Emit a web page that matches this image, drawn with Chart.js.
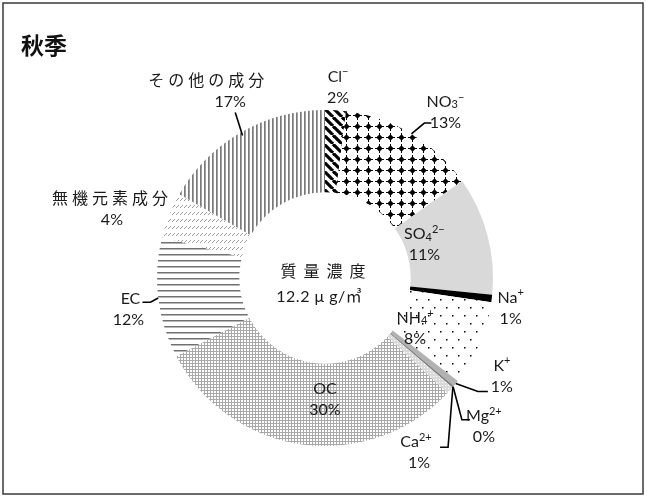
<!DOCTYPE html>
<html>
<head>
<meta charset="utf-8">
<script src="https://cdn.jsdelivr.net/npm/chart.js@4"></script>
<style>
  body { margin: 0; background: #fff; }
  canvas { display: block; }
</style>
</head>
<body>
<canvas id="seasonChart" width="647" height="497"></canvas>
<script>
var title = '秋季';
var categories = ['Cl⁻', 'NO₃⁻', 'SO₄²⁻', 'Na⁺', 'NH₄⁺', 'K⁺', 'Mg²⁺', 'Ca²⁺', 'OC', 'EC', '無機元素成分', 'その他の成分'];
var shares = [2.0, 13.2, 11.4, 0.7, 8.2, 0.6, 0.2, 0.7, 30.3, 11.6, 4.4, 16.7];
var shownPercent = [2, 13, 11, 1, 8, 1, 0, 1, 30, 12, 4, 17];
var centerLines = ['質量濃度', '12.2 μ g/㎥'];

// label placement: radius from centre (px), angle shift from slice middle (deg), leader bends relative to label
var labelLayout = [
  { r: 192, da: 0.3 },
  { r: 205, da: 5, leader: [[-21, 11], [-14, 11]] },
  { r: 105, da: -4 },
  { r: 188, da: 2 },
  { r: 103, da: 6 },
  { r: 202, da: -10, leader: [[-24, 16], [-14, 16]] },
  { r: 217, da: 2.6, leader: [[-22, -6], [-14, -6]] },
  { r: 198, da: 19.7, leader: [[29, -5], [21, -5]], leaderDa: -1.5, nameDx: -3 },
  { r: 121, da: -7.7 },
  { r: 199, da: -2.2, leader: [[22, -7], [14, -7]], nameDx: 2 },
  { r: 224, da: -4, nameDx: -2 },
  { r: 212, da: 2.3, leader: [[9, 22]], leaderR: 0.98, nameDx: -20, pctDx: 4 }
];

function makePattern(w, h, draw) {
  var c = document.createElement('canvas');
  c.width = w; c.height = h;
  var x = c.getContext('2d');
  x.fillStyle = '#fff';
  x.fillRect(0, 0, w, h);
  draw(x);
  return x.createPattern(c, 'repeat');
}

var fills = [
  makePattern(9, 9, function(x) {
    x.strokeStyle = '#000'; x.lineWidth = 3.2;
    [-9, 0, 9].forEach(function(k) { x.beginPath(); x.moveTo(k, 0); x.lineTo(k + 9, 9); x.stroke(); });
  }),
  makePattern(11, 11, function(x) {
    x.fillStyle = '#000';
    x.beginPath();
    x.moveTo(5.5, 2.3); x.lineTo(8.7, 5.5); x.lineTo(5.5, 8.7); x.lineTo(2.3, 5.5);
    x.closePath(); x.fill();
    x.fillRect(5, 1, 1, 9); x.fillRect(1, 5, 9, 1);
  }),
  '#d9d9d9',
  '#000000',
  makePattern(12, 16, function(x) {
    x.fillStyle = '#000';
    x.fillRect(2, 3, 1.5, 1.5); x.fillRect(8, 11, 1.5, 1.5);
  }),
  '#b2b2b2',
  '#808080',
  makePattern(3, 3, function(x) {
    x.fillStyle = '#dadada'; x.fillRect(0, 0, 3, 3);
    x.fillStyle = '#fff'; x.fillRect(1, 1, 1, 1);
  }),
  makePattern(3, 3, function(x) {
    x.fillStyle = '#a8a8a8'; x.fillRect(0, 0, 3, 3);
    x.fillStyle = '#fff'; x.fillRect(1, 1, 2, 2);
  }),
  makePattern(1, 6, function(x) {
    x.fillStyle = '#707070'; x.fillRect(0, 2, 1, 1);
    x.fillStyle = '#b8b8b8'; x.fillRect(0, 3, 1, 1);
  }),
  makePattern(4, 7, function(x) {
    x.strokeStyle = '#9a9a9a'; x.lineWidth = 1;
    x.beginPath(); x.moveTo(0, 5); x.lineTo(3, 2); x.stroke();
  }),
  makePattern(4, 1, function(x) {
    x.fillStyle = '#7a7a7a'; x.fillRect(0, 0, 1, 1);
    x.fillStyle = '#a0a0a0'; x.fillRect(1, 0, 1, 1);
  })
];

var FONT = "Lato, 'Noto Sans CJK JP', sans-serif";
var SUB = { '₃': '3', '₄': '4' };
var SUP = { '²': '2', '⁺': '+', '⁻': '−' };

function isCjk(s) { return /[\u3040-\u9fff]/.test(s); }

// split a label into normal / subscript / superscript runs
function richParts(s) {
  var parts = [];
  Array.from(s).forEach(function(ch) {
    var mode = SUB[ch] ? 'sub' : (SUP[ch] ? 'sup' : 'n');
    var t = SUB[ch] || SUP[ch] || ch;
    var last = parts[parts.length - 1];
    if (last && last.mode === mode) last.t += t;
    else parts.push({ t: t, mode: mode });
  });
  return parts;
}

function drawText(ctx, s, x, y, size, spacing) {
  spacing = spacing || 0;
  var parts = richParts(s);
  var small = Math.round(size * 0.68);
  ctx.textAlign = 'left';
  ctx.letterSpacing = spacing + 'px';
  var total = 0;
  parts.forEach(function(p) {
    ctx.font = (p.mode === 'n' ? size : small) + 'px ' + FONT;
    p.w = ctx.measureText(p.t).width;
    total += p.w;
  });
  total -= spacing;
  var cx = x - total / 2;
  parts.forEach(function(p) {
    ctx.font = (p.mode === 'n' ? size : small) + 'px ' + FONT;
    var dy = p.mode === 'sup' ? -size * 0.3 : (p.mode === 'sub' ? size * 0.18 : 0);
    ctx.fillText(p.t, cx, y + dy);
    cx += p.w;
  });
  ctx.letterSpacing = '0px';
}

var labelPlugin = {
  id: 'labelPlugin',
  beforeDraw: function(chart) {
    var ctx = chart.ctx;
    ctx.save();
    ctx.fillStyle = '#fff';
    ctx.fillRect(0, 0, chart.width, chart.height);
    ctx.strokeStyle = '#3a3a3a';
    ctx.lineWidth = 1.5;
    ctx.strokeRect(3, 3, 640, 491);
    ctx.fillStyle = '#111';
    ctx.font = "bold 23px 'Noto Sans CJK JP', sans-serif";
    ctx.textBaseline = 'middle';
    ctx.fillText(title, 21, 45);
    ctx.restore();
  },
  afterDatasetsDraw: function(chart) {
    var ctx = chart.ctx;
    var meta = chart.getDatasetMeta(0);
    ctx.save();
    ctx.fillStyle = '#1a1a1a';
    ctx.textBaseline = 'middle';
    meta.data.forEach(function(arc, i) {
      var p = arc.getProps(['x', 'y', 'startAngle', 'endAngle', 'outerRadius']);
      var lay = labelLayout[i];
      var mid = (p.startAngle + p.endAngle) / 2;
      var a = mid + lay.da * Math.PI / 180;
      var lx = p.x + lay.r * Math.cos(a);
      var ly = p.y + lay.r * Math.sin(a);
      if (lay.leader) {
        var la = mid + (lay.leaderDa || 0) * Math.PI / 180;
        var lr = p.outerRadius * (lay.leaderR || 1);
        ctx.strokeStyle = '#000';
        ctx.lineWidth = 1.6;
        ctx.beginPath();
        ctx.moveTo(p.x + lr * Math.cos(la), p.y + lr * Math.sin(la));
        lay.leader.forEach(function(pt) { ctx.lineTo(lx + pt[0], ly + pt[1]); });
        ctx.stroke();
      }
      var name = categories[i];
      drawText(ctx, name, lx + (lay.nameDx || 0), ly - 10, 16, isCjk(name) ? 4 : 0);
      drawText(ctx, shownPercent[i] + '%', lx + (lay.pctDx || 0), ly + 11, 16, 0);
    });
    var c = meta.data[0];
    drawText(ctx, centerLines[0], c.x - 2, c.y - 6, 16, 7);
    drawText(ctx, centerLines[1], c.x - 6, c.y + 19, 16, 0.5);
    ctx.restore();
  }
};

new Chart(document.getElementById('seasonChart'), {
  type: 'doughnut',
  data: {
    labels: categories,
    datasets: [{
      data: shares,
      backgroundColor: fills,
      borderWidth: 0,
      hoverOffset: 0
    }]
  },
  options: {
    responsive: false,
    animation: false,
    events: [],
    cutout: '51%',
    layout: { padding: { left: 157, right: 154, top: 110, bottom: 51 } },
    plugins: { legend: { display: false }, tooltip: { enabled: false } }
  },
  plugins: [labelPlugin]
});
</script>
</body>
</html>
